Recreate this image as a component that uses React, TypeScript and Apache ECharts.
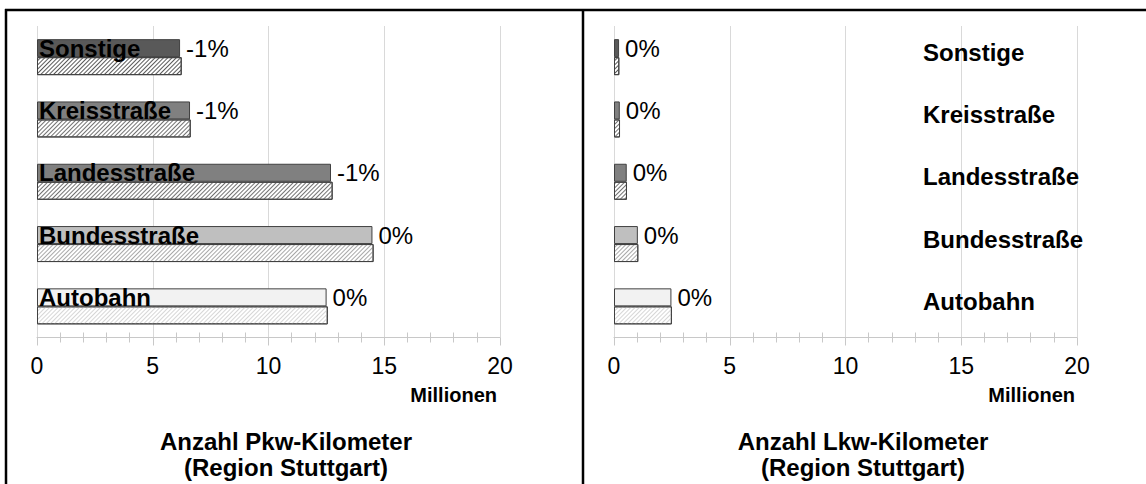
import React, { useEffect, useRef } from "react";
import * as echarts from "echarts";

const categories = ["Autobahn", "Bundesstraße", "Landesstraße", "Kreisstraße", "Sonstige"];
const pkwCurrent = [12.51, 14.49, 12.7, 6.61, 6.18];
const pkwPrevious = [12.56, 14.54, 12.77, 6.64, 6.25];
const pkwChange = ["0%", "0%", "-1%", "-1%", "-1%"];
const lkwCurrent = [2.48, 1.03, 0.55, 0.25, 0.22];
const lkwPrevious = [2.5, 1.05, 0.56, 0.26, 0.23];
const lkwChange = ["0%", "0%", "0%", "0%", "0%"];
const xMin = 0;
const xMax = 20;
const xStep = 5;
const axisUnit = "Millionen";
const titles = ["Anzahl Pkw-Kilometer\n(Region Stuttgart)", "Anzahl Lkw-Kilometer\n(Region Stuttgart)"];
const solidColors = ["#f2f2f2", "#bfbfbf", "#808080", "#808080", "#595959"];
const hatchColors = ["#d6d6d6", "#a8a8a8", "#727272", "#727272", "#5a5a5a"];

const FONT = "'Liberation Sans', Arial, sans-serif";

function makeXAxes(gridIndex: number) {
  const common = {
    type: "value",
    gridIndex,
    min: xMin,
    max: xMax,
    interval: xStep,
    position: "bottom",
  };
  return [
    {
      ...common,
      axisLine: { show: true, lineStyle: { color: "#c8c8c8", width: 1 } },
      axisTick: { show: true, length: 8, lineStyle: { color: "#c8c8c8" } },
      minorTick: { show: true, splitNumber: 5, length: 5, lineStyle: { color: "#c8c8c8" } },
      splitLine: { show: true, lineStyle: { color: "#d9d9d9", width: 1 } },
      axisLabel: { show: true, margin: 17, fontSize: 23, color: "#000", fontFamily: FONT },
    },
    {
      ...common,
      axisLine: { show: false },
      axisTick: { show: false, inside: true },
      minorTick: { show: true, splitNumber: 5, length: 5, lineStyle: { color: "#c8c8c8" } },
      splitLine: { show: false },
      axisLabel: { show: false },
    },
  ];
}

function makeSeries(gridIdx: number, cur: number[], prev: number[], change: string[]) {
  const xIdx = gridIdx * 2;
  return [
    {
      type: "bar",
      name: "aktuell",
      xAxisIndex: xIdx,
      yAxisIndex: gridIdx,
      barWidth: 18,
      barGap: "0%",
      data: cur.map((v, i) => ({
        value: v,
        itemStyle: { color: solidColors[i], borderColor: "#404040", borderWidth: 1 },
      })),
      label: {
        show: true,
        position: "right",
        distance: 6,
        fontSize: 24,
        color: "#000",
        fontFamily: FONT,
        formatter: (p: any) => change[p.dataIndex],
      },
    },
    {
      type: "bar",
      name: "vorher",
      xAxisIndex: xIdx,
      yAxisIndex: gridIdx,
      barWidth: 18,
      barGap: "0%",
      data: prev.map((v, i) => ({
        value: v,
        itemStyle: {
          color: "#ffffff",
          borderColor: "#404040",
          borderWidth: 1,
          decal: {
            symbol: "rect",
            symbolSize: 1,
            color: hatchColors[i],
            backgroundColor: "#ffffff",
            dashArrayX: [1, 0],
            dashArrayY: [1, 2],
            rotation: -Math.PI / 4,
          },
        },
      })),
    },
  ];
}

export default function App() {
  const ref = useRef<HTMLDivElement>(null);
  useEffect(() => {
    document.body.style.margin = "0";
    const chart = echarts.init(ref.current!, undefined, { renderer: "svg" });
    const option: any = {
      animation: false,
      backgroundColor: "#ffffff",
      textStyle: { fontFamily: FONT },
      grid: [
        { left: 37, right: 646, top: 26, bottom: 146.5 },
        { left: 614, right: 69, top: 26, bottom: 146.5 },
      ],
      xAxis: [...makeXAxes(0), ...makeXAxes(1)],
      yAxis: [
        {
          type: "category",
          gridIndex: 0,
          data: categories,
          position: "left",
          z: 10,
          axisLine: { show: false },
          axisTick: { show: false },
          splitLine: { show: false },
          axisLabel: {
            align: "left",
            margin: -2,
            fontSize: 24,
            fontWeight: "bold",
            color: "#000",
            fontFamily: FONT,
            verticalAlign: "bottom",
            lineHeight: 18,
          },
        },
        {
          type: "category",
          gridIndex: 1,
          data: categories,
          position: "right",
          z: 10,
          axisLine: { show: false },
          axisTick: { show: false },
          splitLine: { show: false },
          axisLabel: {
            align: "left",
            margin: -154,
            fontSize: 24,
            fontWeight: "bold",
            color: "#000",
            fontFamily: FONT,
            verticalAlign: "bottom",
            lineHeight: 10,
          },
        },
      ],
      series: [
        ...makeSeries(0, pkwCurrent, pkwPrevious, pkwChange),
        ...makeSeries(1, lkwCurrent, lkwPrevious, lkwChange),
      ],
      graphic: [
        { type: "line", shape: { x1: 5, y1: 10, x2: 1146, y2: 10 }, style: { stroke: "#000", lineWidth: 2.5 } },
        { type: "line", shape: { x1: 6, y1: 9, x2: 6, y2: 484 }, style: { stroke: "#000", lineWidth: 2.5 } },
        { type: "line", shape: { x1: 583, y1: 9, x2: 583, y2: 484 }, style: { stroke: "#000", lineWidth: 2.5 } },
        {
          type: "text",
          x: 497,
          y: 395,
          style: { text: axisUnit, align: "right", verticalAlign: "middle", font: `bold 20px ${FONT}`, fill: "#000" },
        },
        {
          type: "text",
          x: 1075,
          y: 395,
          style: { text: axisUnit, align: "right", verticalAlign: "middle", font: `bold 20px ${FONT}`, fill: "#000" },
        },
        {
          type: "text",
          x: 286,
          y: 454,
          style: { text: titles[0], align: "center", verticalAlign: "middle", font: `bold 24px ${FONT}`, lineHeight: 26, fill: "#000" },
        },
        {
          type: "text",
          x: 863,
          y: 454,
          style: { text: titles[1], align: "center", verticalAlign: "middle", font: `bold 24px ${FONT}`, lineHeight: 26, fill: "#000" },
        },
      ],
    };
    chart.setOption(option);
    return () => chart.dispose();
  }, []);
  return <div ref={ref} style={{ width: 1146, height: 484 }} />;
}
